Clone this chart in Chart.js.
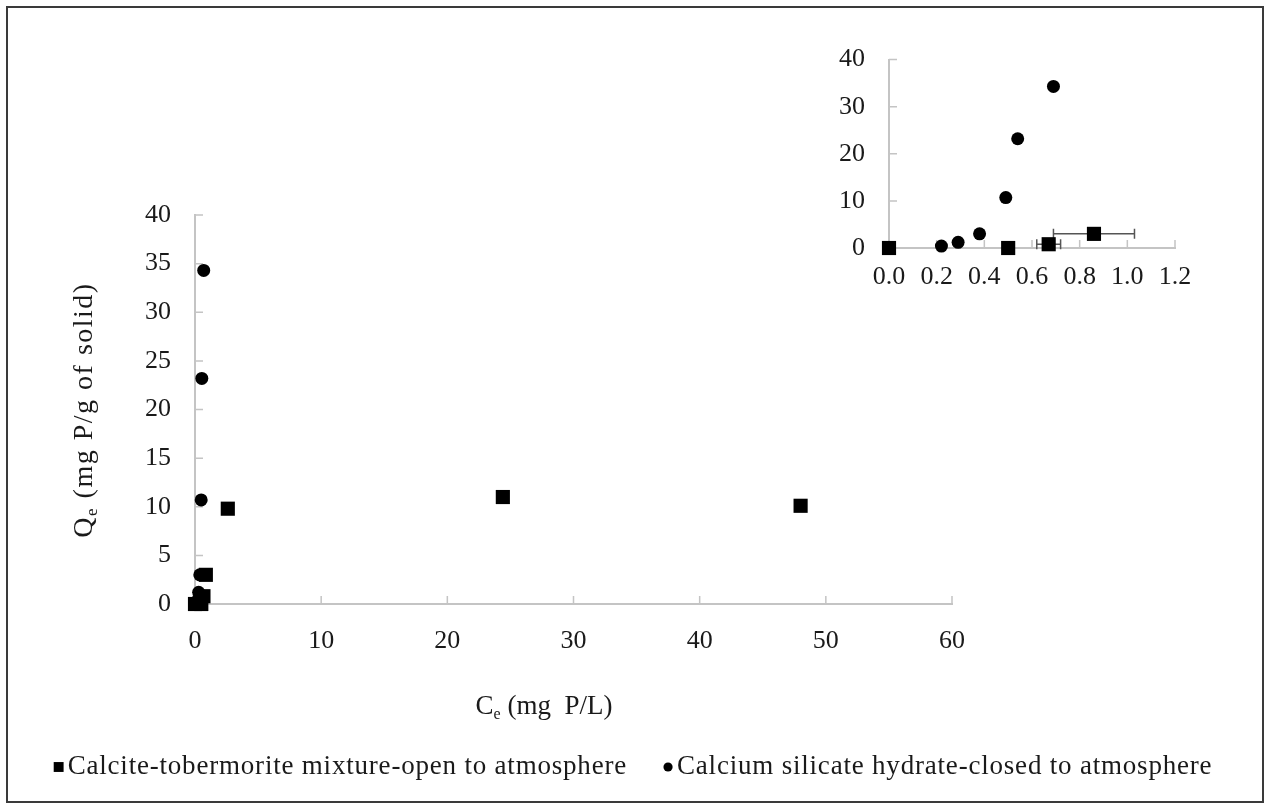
<!DOCTYPE html>
<html lang="en">
  <head>
    <meta charset="UTF-8" />
    <title>Phosphorus sorption isotherms</title>
    <script src="https://cdn.jsdelivr.net/npm/chart.js@4.4.0/dist/chart.umd.min.js"></script>
    <style>
      body {
        margin: 0;
        background: #fff;
      }

      .wrap {
        position: relative;
        width: 1266px;
        height: 809px;
      }

      .frame {
        position: absolute;
        left: 6px;
        top: 6px;
        width: 1258px;
        height: 797px;
        border: 2px solid #3a3a3a;
        box-sizing: border-box;
      }

      #main {
        position: absolute;
        left: 0;
        top: 0;
      }

      #inset {
        position: absolute;
        left: 800px;
        top: 20px;
      }
    </style>
  </head>
  <body>
    <div class="wrap">
      <div class="frame"></div>
      <canvas id="main" width="1266" height="809"></canvas>
      <canvas id="inset" width="440" height="290"></canvas>
    </div>

    <script>
      // Calcite-tobermorite mixture (squares), Ce with horizontal error
      const squareCe = [0, 0.5, 0.67, 0.86, 2.6, 24.4, 48.0];
      const squareQe = [0, 0, 0.8, 3.0, 9.8, 11.0, 10.1];
      const squareCeErr = [0, 0, 0.05, 0.17, 0, 0, 0];

      // Calcium silicate hydrate (circles)
      const circleCe = [0.22, 0.29, 0.38, 0.49, 0.54, 0.69];
      const circleQe = [0.4, 1.2, 3.0, 10.7, 23.2, 34.3];

      const seriesNames = [
        "Calcite-tobermorite mixture-open to atmosphere",
        "Calcium silicate hydrate-closed to atmosphere",
      ];

      const mainXTicks = [0, 10, 20, 30, 40, 50, 60];
      const mainYTicks = [0, 5, 10, 15, 20, 25, 30, 35, 40];
      const insetXTicks = [0, 0.2, 0.4, 0.6, 0.8, 1.0, 1.2];
      const insetYTicks = [0, 10, 20, 30, 40];

      const serif = "'Liberation Serif', 'Times New Roman', serif";
      const ink = "#1a1a1a";
      const axisGrey = "#c4c4c4";
      const fontSize = 26;

      const toPoints = (xs, ys) => xs.map((v, i) => ({ x: v, y: ys[i] }));

      function makeDatasets() {
        return [
          {
            label: seriesNames[0],
            data: toPoints(squareCe, squareQe),
            xErr: squareCeErr,
            pointStyle: "rect",
            pointRadius: 10,
            backgroundColor: "#000",
            borderWidth: 0,
            clip: false,
          },
          {
            label: seriesNames[1],
            data: toPoints(circleCe, circleQe),
            pointStyle: "circle",
            pointRadius: 6.5,
            backgroundColor: "#000",
            borderWidth: 0,
            clip: false,
          },
        ];
      }

      // short tick marks pointing into the plot
      const innerTicks = {
        id: "innerTicks",
        beforeDatasetsDraw(chart, args, opts) {
          const { ctx, scales } = chart;
          const x = scales.x, y = scales.y;
          ctx.save();
          ctx.strokeStyle = axisGrey;
          ctx.lineWidth = 1.5;
          ctx.beginPath();
          x.ticks.forEach((t) => {
            if (t.value === x.min) return;
            const px = x.getPixelForValue(t.value);
            ctx.moveTo(px, y.bottom);
            ctx.lineTo(px, y.bottom - opts.len);
          });
          y.ticks.forEach((t) => {
            if (t.value === y.min) return;
            const py = y.getPixelForValue(t.value);
            ctx.moveTo(x.left, py);
            ctx.lineTo(x.left + opts.len, py);
          });
          ctx.stroke();
          ctx.restore();
        },
      };

      // horizontal error bars with end caps
      const errorBars = {
        id: "errorBars",
        beforeDatasetsDraw(chart) {
          const { ctx, scales } = chart;
          const x = scales.x, y = scales.y;
          ctx.save();
          ctx.strokeStyle = "#555";
          ctx.lineWidth = 1.5;
          chart.data.datasets.forEach((ds) => {
            if (!ds.xErr) return;
            ds.data.forEach((p, i) => {
              const e = ds.xErr[i];
              if (!e) return;
              const x0 = x.getPixelForValue(p.x - e);
              const x1 = x.getPixelForValue(p.x + e);
              const py = y.getPixelForValue(p.y);
              ctx.beginPath();
              ctx.moveTo(x0, py);
              ctx.lineTo(x1, py);
              ctx.moveTo(x0, py - 5);
              ctx.lineTo(x0, py + 5);
              ctx.moveTo(x1, py - 5);
              ctx.lineTo(x1, py + 5);
              ctx.stroke();
            });
          });
          ctx.restore();
        },
      };

      // draws "X_e rest" with a subscript e, centred on (0,0)
      function subscriptTitle(ctx, head, sub, rest, size, spacing) {
        const big = size + "px " + serif;
        const small = Math.round(size * 0.6) + "px " + serif;
        ctx.letterSpacing = spacing + "px";
        ctx.font = big;
        const wHead = ctx.measureText(head).width;
        const wRest = ctx.measureText(rest).width;
        ctx.font = small;
        const wSub = ctx.measureText(sub).width;
        let cx = -(wHead + wSub + wRest) / 2;
        ctx.textBaseline = "alphabetic";
        ctx.textAlign = "left";
        const base = size * 0.33;
        ctx.font = big;
        ctx.fillText(head, cx, base);
        cx += wHead;
        ctx.font = small;
        ctx.fillText(sub, cx, base + size * 0.18);
        cx += wSub;
        ctx.font = big;
        ctx.fillText(rest, cx, base);
      }

      const axisTitles = {
        id: "axisTitles",
        afterDraw(chart) {
          const ctx = chart.ctx;
          ctx.save();
          ctx.fillStyle = ink;
          ctx.translate(544, 705);
          subscriptTitle(ctx, "C", "e", " (mg  P/L)", 27, 0);
          ctx.restore();

          ctx.save();
          ctx.fillStyle = ink;
          ctx.translate(83, 410);
          ctx.rotate(-Math.PI / 2);
          subscriptTitle(ctx, "Q", "e", " (mg P/g of solid)", 28, 1.5);
          ctx.restore();
        },
      };

      // one-row legend under the plot, centred on the canvas
      const legendRow = {
        id: "legendRow",
        afterDraw(chart) {
          const ctx = chart.ctx;
          const y = 767;
          const mark = 10, gap = 4, between = 36;
          ctx.save();
          ctx.font = "27px " + serif;
          ctx.letterSpacing = "0.8px";
          const items = chart.data.datasets.map((ds) => ({
            ds: ds,
            w: mark + gap + ctx.measureText(ds.label).width,
          }));
          const total = items.reduce((s, it) => s + it.w, 0) + between * (items.length - 1);
          let x = (chart.width - total) / 2;
          items.forEach((it) => {
            ctx.fillStyle = "#000";
            Chart.helpers.drawPoint(
              ctx,
              { pointStyle: it.ds.pointStyle, radius: it.ds.pointStyle === "rect" ? 7 : 4.6, rotation: 0, borderWidth: 0 },
              x + mark / 2,
              y
            );
            ctx.fillStyle = ink;
            ctx.textBaseline = "middle";
            ctx.textAlign = "left";
            ctx.fillText(it.ds.label, x + mark + gap, y);
            x += it.w + between;
          });
          ctx.restore();
        },
      };

      function axis(min, max, tickList, opts) {
        return {
          type: "linear",
          min: min,
          max: max,
          border: { color: axisGrey, width: 2 },
          grid: { display: false, drawTicks: false },
          ticks: {
            color: ink,
            font: { family: serif, size: fontSize },
            padding: opts.padding,
            callback: opts.format,
          },
          afterBuildTicks: (s) => {
            s.ticks = tickList.map((v) => ({ value: v }));
          },
          afterFit: (s) => {
            if (opts.width) s.width = opts.width;
            if (opts.height) s.height = opts.height;
          },
        };
      }

      new Chart(document.getElementById("main"), {
        type: "scatter",
        data: { datasets: makeDatasets() },
        options: {
          responsive: false,
          animation: false,
          layout: { padding: { top: 215, right: 314, left: 0, bottom: 0 } },
          plugins: { legend: { display: false }, tooltip: { enabled: false }, innerTicks: { len: 8 } },
          scales: {
            x: axis(0, 60, mainXTicks, { padding: 22, height: 205, format: (v) => v }),
            y: axis(0, 40, mainYTicks, { padding: 24, width: 195, format: (v) => v }),
          },
        },
        plugins: [innerTicks, errorBars, axisTitles, legendRow],
      });

      new Chart(document.getElementById("inset"), {
        type: "scatter",
        data: { datasets: makeDatasets() },
        options: {
          responsive: false,
          animation: false,
          layout: { padding: { top: 29, right: 65, left: 0, bottom: 0 } },
          plugins: { legend: { display: false }, tooltip: { enabled: false }, innerTicks: { len: 8 } },
          scales: {
            x: axis(0, 1.2, insetXTicks, { padding: 14, height: 62, format: (v) => v.toFixed(1) }),
            y: axis(0, 40, insetYTicks, { padding: 24, width: 89, format: (v) => v }),
          },
        },
        plugins: [innerTicks, errorBars],
      });
    </script>
  </body>
</html>
